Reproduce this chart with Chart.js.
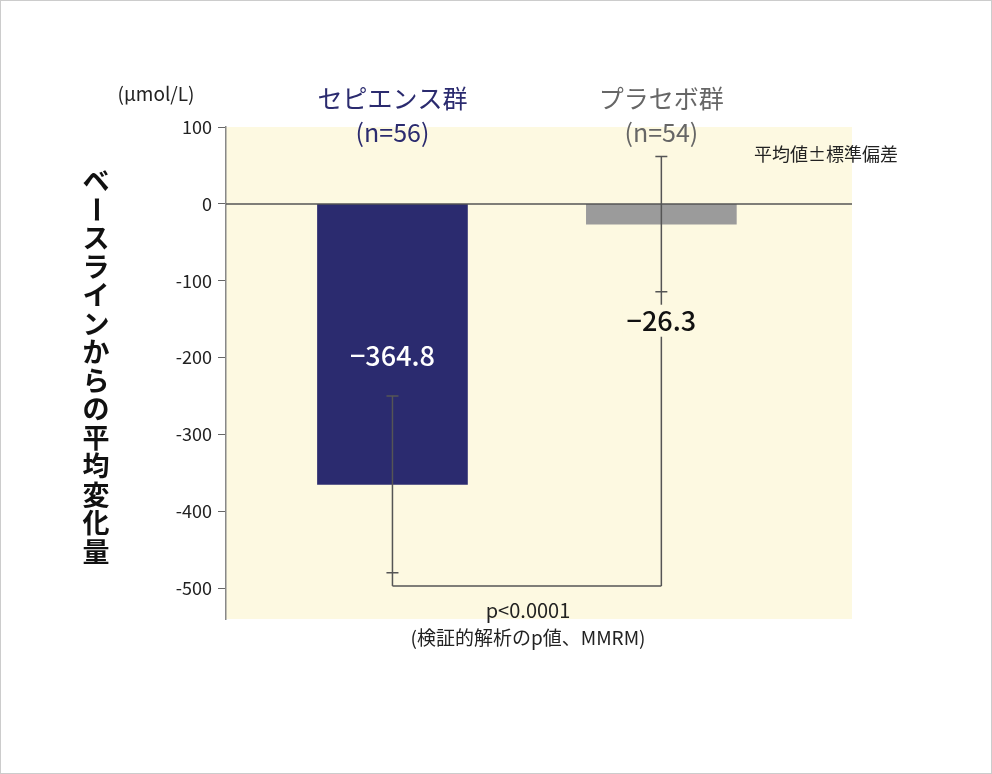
<!DOCTYPE html>
<html><head><meta charset="utf-8">
<script src="https://cdn.jsdelivr.net/npm/chart.js@4"></script>
<style>body{margin:0;background:#fff}#w{position:absolute;left:0;top:0;width:992px;height:774px;box-sizing:border-box;border:1px solid #ccc}</style>
</head><body><div id="w"><canvas id="c" width="992" height="774"></canvas></div>
<script>
const groups=["セピエンス群","プラセボ群"];
const nLabels=["(n=56)","(n=54)"];
const groupPos=[24.25,71.5];
const means=[-364.8,-26.3];
const sds=[115,88];
const valueLabels=["−364.8","−26.3"];
const yTicks=[100,0,-100,-200,-300,-400,-500];
const F='"Noto Sans CJK JP","Noto Sans",sans-serif';
const deco={id:'deco',
beforeDraw(ch){const a=ch.chartArea,c=ch.ctx;c.save();c.fillStyle='#fdf9e1';c.fillRect(a.left,a.top,a.right-a.left,a.bottom-a.top);c.restore();},
afterDatasetsDraw(ch){
 const c=ch.ctx,x=ch.scales.x,y=ch.scales.y,a=ch.chartArea;
 c.save();
 c.strokeStyle='#555';c.lineWidth=1.5;
 c.beginPath();c.moveTo(a.left,y.getPixelForValue(0));c.lineTo(a.right,y.getPixelForValue(0));c.stroke();
 const bY=y.getPixelForValue(-497);
 means.forEach((m,i)=>{const px=x.getPixelForValue(groupPos[i]);
  const hi=m+sds[i],lo=m-sds[i];
  const yh=y.getPixelForValue(hi),yl=y.getPixelForValue(lo);
  c.strokeStyle='#555';c.lineWidth=1.5;
  c.beginPath();c.moveTo(px,yh);c.lineTo(px,bY);c.stroke();
  c.beginPath();c.moveTo(px-6,yh);c.lineTo(px+6,yh);c.moveTo(px-6,yl);c.lineTo(px+6,yl);c.stroke();
 });
 const x0=x.getPixelForValue(groupPos[0]),x1=x.getPixelForValue(groupPos[1]);
 c.beginPath();c.moveTo(x0,bY);c.lineTo(x1,bY);c.stroke();
 c.font='500 27px '+F;c.textAlign='center';c.textBaseline='middle';
 c.fillStyle='#fff';c.fillText(valueLabels[0],x0,y.getPixelForValue(-197));
 const ly=y.getPixelForValue(-152);const tw=c.measureText(valueLabels[1]).width;
 c.fillStyle='#fdf9e1';c.fillRect(x1-tw/2-4,ly-16,tw+8,32);
 c.fillStyle='#111';c.fillText(valueLabels[1],x1,ly);
 const cols=['#2b2b6f','#666'];
 c.font='25px '+F;
 groups.forEach((g,i)=>{const px=x.getPixelForValue(groupPos[i]);c.fillStyle=cols[i];c.fillText(g,px,97);c.fillText(nLabels[i],px,131);});
 c.fillStyle='#222';c.font='19px '+F;c.fillText('(μmol/L)',155,93);
 c.font='18px '+F;c.fillText('平均値±標準偏差',825,153);
 c.font='20px '+F;c.fillText('p<0.0001',527,609);
 c.font='19px '+F;c.fillText('(検証的解析のp値、MMRM)',527,637);
 const t='ベースラインからの平均変化量';c.font='bold 27px '+F;c.fillStyle='#111';
 let yy=180;for(const ch2 of t){ if(ch2==='ー'){c.save();c.translate(95,yy);c.rotate(Math.PI/2);c.fillText(ch2,0,0);c.restore();} else c.fillText(ch2,95,yy);yy+=28.5;}
 c.restore();}};
new Chart(document.getElementById('c'),{type:'bar',
data:{datasets:[{data:means.map((m,i)=>({x:groupPos[i],y:m})),backgroundColor:['#2b2b6f','#9b9b9b'],barThickness:150}]},
options:{responsive:false,animation:false,events:[],
layout:{padding:{left:0,top:126,right:141,bottom:156}},
plugins:{legend:{display:false},tooltip:{enabled:false}},
scales:{x:{type:'linear',min:0,max:100,display:false},
y:{min:-540,max:100,afterFit(s){s.width=225;},
afterBuildTicks(s){s.ticks=yTicks.map(v=>({value:v}));},
ticks:{color:'#222',font:{size:18,family:F},padding:6,callback:v=>String(v)},
grid:{drawOnChartArea:false,color:'#666',tickLength:8},border:{color:'#888',width:1.5}}}},
plugins:[deco]});
</script></body></html>
